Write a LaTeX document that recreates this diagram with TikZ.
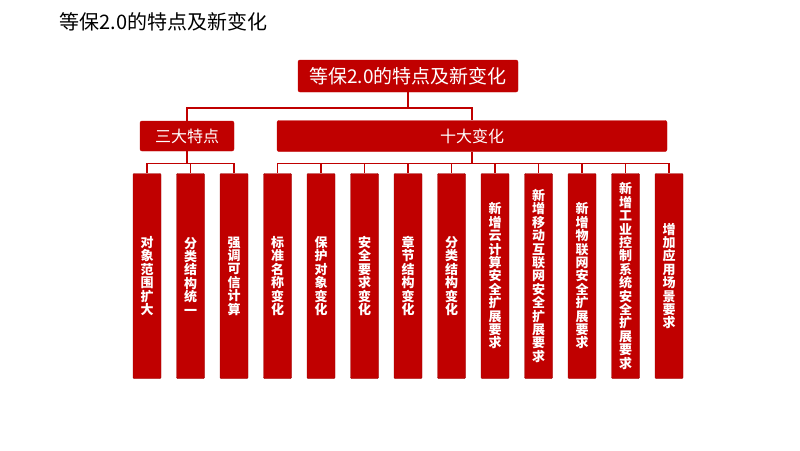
\documentclass[tikz,border=0pt]{standalone}
\usepackage{fontspec}
\setmainfont{Noto Sans CJK SC}
\usetikzlibrary{positioning}
\definecolor{dbred}{HTML}{C00000}
\tikzset{%
    headbox/.style={draw=dbred, fill=dbred, rounded corners=2pt, text=white, inner sep=0pt},
    colbox/.style={draw=dbred!80!black, fill=dbred, rounded corners=1pt, minimum width=28pt, minimum height=205pt, inner sep=0pt, text=white, font=\fontsize{13}{13.4}\selectfont\bfseries, align=center},
    link/.style={draw=dbred, line width=1.2pt},
  }
\newcommand{\vtext}[1]{\foreach \c [count=\i] in {#1}{\ifnum\i>1 \\\fi\c}}
\begin{document}
\begin{tikzpicture}[x=1pt, y=-1pt]
    \useasboundingbox (0,0) rectangle (800,450);
    \node (title) [anchor=west, font=\fontsize{20}{24}\selectfont] at (56,22) {等保2.0的特点及新变化};
    \node (root) [headbox, minimum width=220pt, minimum height=32pt, font=\fontsize{19}{22}\selectfont] at (408,76) {等保2.0的特点及新变化};
    \node (feat) [headbox, minimum width=94pt, minimum height=30pt, font=\fontsize{16}{20}\selectfont] at (187,136) {三大特点};
    \node (chg) [headbox, minimum width=390pt, minimum height=31pt, font=\fontsize{16}{20}\selectfont] at (472,136) {十大变化};
    %
    \node (c1) [colbox] at (147,276) {对\\象\\范\\围\\扩\\大};
    \node (c2) [colbox] at (190.5,276) {分\\类\\结\\构\\统\\一};
    \node (c3) [colbox] at (234,276) {强\\调\\可\\信\\计\\算};
    \node (c4) [colbox] at (277.5,276) {标\\准\\名\\称\\变\\化};
    \node (c5) [colbox] at (321,276) {保\\护\\对\\象\\变\\化};
    \node (c6) [colbox] at (364.5,276) {安\\全\\要\\求\\变\\化};
    \node (c7) [colbox] at (408,276) {章\\节\\结\\构\\变\\化};
    \node (c8) [colbox] at (451.5,276) {分\\类\\结\\构\\变\\化};
    \node (c9) [colbox] at (495,276) {新\\增\\云\\计\\算\\安\\全\\扩\\展\\要\\求};
    \node (c10) [colbox] at (538.5,276) {新\\增\\移\\动\\互\\联\\网\\安\\全\\扩\\展\\要\\求};
    \node (c11) [colbox] at (582,276) {新\\增\\物\\联\\网\\安\\全\\扩\\展\\要\\求};
    \node (c12) [colbox] at (625.5,276) {新\\增\\工\\业\\控\\制\\系\\统\\安\\全\\扩\\展\\要\\求};
    \node (c13) [colbox] at (669,276) {增\\加\\应\\用\\场\\景\\要\\求};
    %
    \coordinate (rj) at (408,108);
    \draw [link] (root.south) -- (rj) -| (feat.north);
    \draw [link] (rj) -| (chg.north);
    \draw [link] (feat.south) -- ++(0,12) coordinate (fj);
    \foreach \n in {c1,c2,c3} \draw [link] (fj) -| (\n.north);
    \draw [link] (chg.south) -- ++(0,12) coordinate (cj);
    \foreach \n in {c4,c5,c6,c7,c8,c9,c10,c11,c12,c13} \draw [link] (cj) -| (\n.north);
\end{tikzpicture}
\end{document}
